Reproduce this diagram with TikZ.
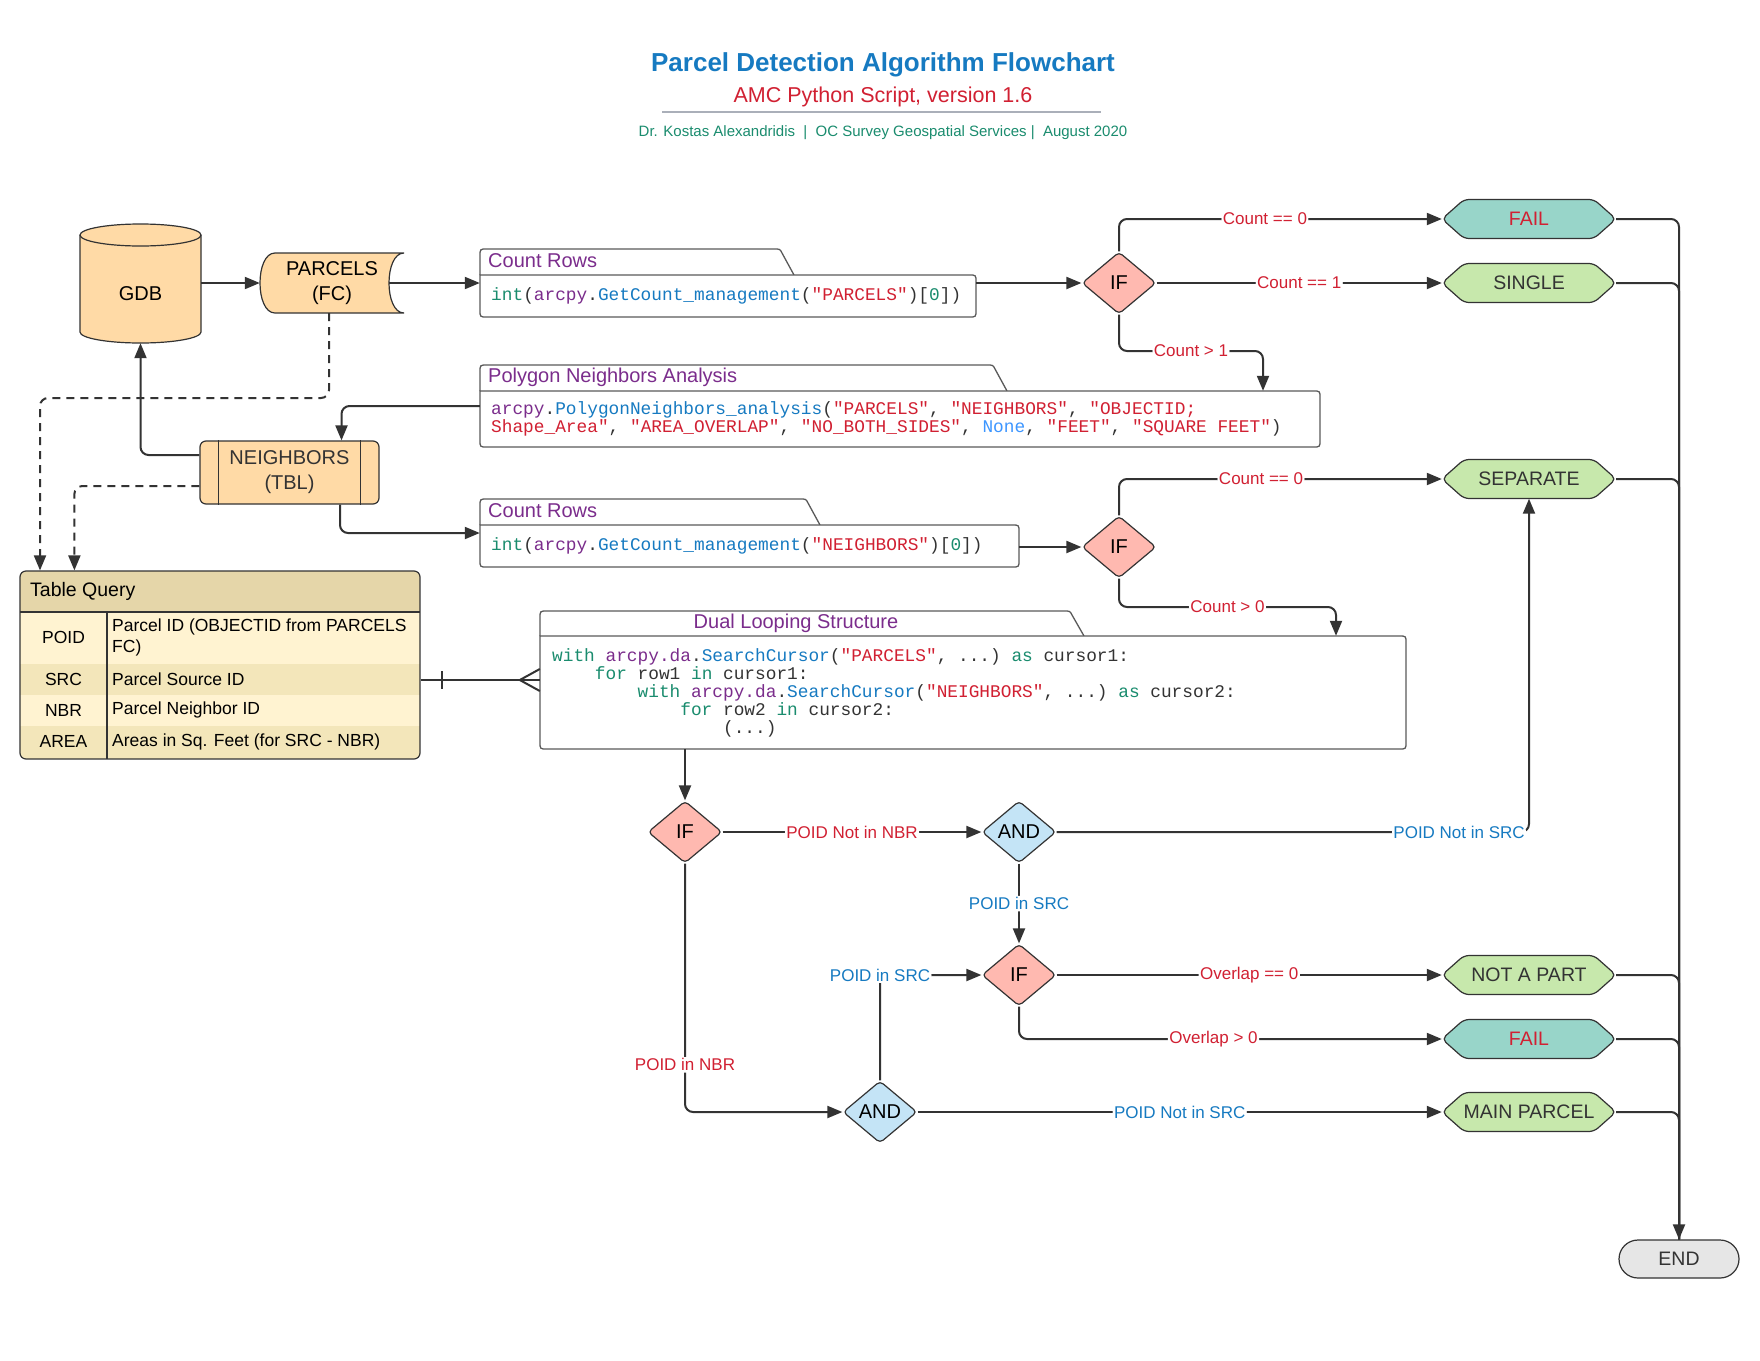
\documentclass[tikz,border=0pt]{standalone}
\usepackage{fontspec}
\setmainfont{Liberation Sans}
\setsansfont{Liberation Sans}
\setmonofont{Liberation Mono}
\usetikzlibrary{arrows.meta,shapes.geometric,calc}

\definecolor{titleblue}{RGB}{22,122,193}
\definecolor{lblred}{RGB}{209,32,50}
\definecolor{authgreen}{RGB}{26,140,110}
\definecolor{hdrpurple}{RGB}{123,45,140}
\definecolor{linec}{RGB}{51,51,51}
\definecolor{orangef}{RGB}{255,218,166}
\definecolor{iff}{RGB}{255,185,176}
\definecolor{andf}{RGB}{196,228,246}
\definecolor{failf}{RGB}{152,213,201}
\definecolor{okf}{RGB}{199,232,172}
\definecolor{endf}{RGB}{230,230,230}
\definecolor{tqhead}{RGB}{229,214,169}
\definecolor{tqlight}{RGB}{255,243,209}
\definecolor{tqdark}{RGB}{243,230,186}
\definecolor{rulegray}{RGB}{170,175,185}
\definecolor{nonec}{RGB}{61,150,255}
\definecolor{boxgray}{RGB}{90,90,90}

\newcommand{\cdKw}[1]{\textcolor{authgreen}{#1}}
\newcommand{\cdMod}[1]{\textcolor{hdrpurple}{#1}}
\newcommand{\cdFn}[1]{\textcolor{titleblue}{#1}}
\newcommand{\cdStr}[1]{\textcolor{lblred}{#1}}
\newcommand{\cdNone}[1]{\textcolor{nonec}{#1}}
\newcommand{\fsz}[2]{\fontsize{#1}{#2}\selectfont}

\tikzset{
  conn/.style={draw=linec, line width=2pt, rounded corners=8pt},
  arrw/.style={conn, -{Triangle[length=15pt,width=12pt]}},
  dconn/.style={conn, dash pattern=on 8pt off 6pt, -{Triangle[length=15pt,width=12pt]}},
  lbl/.style={fill=white, inner sep=1.5pt, font=\fsz{17}{20}},
  lblr/.style={lbl, text=lblred},
  lblb/.style={lbl, text=titleblue},
  shapeline/.style={draw=linec, line width=1.2pt},
  boxline/.style={draw=boxgray, line width=1.3pt},
  ifd/.style={diamond, shapeline, fill=iff, minimum width=74pt, minimum height=62pt, inner sep=0pt, aspect=1, rounded corners=4pt, font=\fsz{20}{24}, text=black},
  andd/.style={ifd, fill=andf},
  hexsty/.style={shapeline, rounded corners=5pt},
  hextext/.style={minimum width=174pt, minimum height=39pt, inner sep=0pt, font=\fsz{19.5}{23}},
  hdr/.style={font=\fsz{20}{24}, text=hdrpurple, inner sep=0pt},
  codetxt/.style={font=\ttfamily\fsz{17.8}{18}, text=linec, align=left, inner sep=0pt, anchor=west},
  tcell/.style={font=\fsz{17.5}{21}, inner sep=0pt, text=black},
}

% name, x, y, fill colour, text colour, text
\newcommand{\hexnode}[6]{%
  \path[hexsty, fill=#4] ({#2-87},#3) -- ({#2-65},{#3-19.5}) -- ({#2+65},{#3-19.5}) -- ({#2+87},#3) -- ({#2+65},{#3+19.5}) -- ({#2-65},{#3+19.5}) -- cycle;
  \node[hextext, text=#5] (#1) at (#2,#3) {#6};}

% name, x1, tabtop, bodytop, x2, bottom, tab corner x
\newcommand{\tabbox}[7]{%
  \path[boxline, fill=white] (#2,#4) -- (#2,{#3+7}) .. controls (#2,#3) .. ({#2+7},#3) -- ({#7-6},#3) .. controls (#7,#3) .. ({#7+2},{#3+4}) -- ({#7+14},#4);
  \path[boxline, fill=white] (#2,#4) -- ({#5-7},#4) .. controls (#5,#4) .. (#5,{#4+7}) -- (#5,{#6-7}) .. controls (#5,#6) .. ({#5-7},#6) -- ({#2+7},#6) .. controls (#2,#6) .. (#2,{#6-7}) -- cycle;
  \node[inner sep=0pt, minimum width={#5-#2}, minimum height={#6-#3}] (#1) at ({(#2+#5)/2},{(#3+#6)/2}) {};
  \node[inner sep=0pt, minimum width={#5-#2}, minimum height={#6-#4}] (#1b) at ({(#2+#5)/2},{(#4+#6)/2}) {};}

\begin{document}
\begin{tikzpicture}[x=1pt,y=-1pt]
\useasboundingbox (0,0) rectangle (1760,1360);
\fill[white] (0,0) rectangle (1760,1360);

% ---------- titles
\node[font=\bfseries\fsz{26}{30}, text=titleblue] (title) at (883,65) {Parcel Detection Algorithm Flowchart};
\node[font=\fsz{21.5}{26}, text=lblred] (subtitle) at (883,97) {AMC Python Script, version 1.6};
\draw[rulegray, line width=1.5pt] (662,112) -- (1101,112);
\node[font=\fsz{15}{18}, text=authgreen] (author) at (883,133) {Dr. Kostas Alexandridis \ | \ OC Survey Geospatial Services | \ August 2020};

% ---------- GDB cylinder
\path[shapeline, fill=orangef] (80,235) -- (80,332) .. controls (80,338.1) and (107.1,343) .. (140.5,343) .. controls (173.9,343) and (201,338.1) .. (201,332) -- (201,235) .. controls (201,228.9) and (173.9,224) .. (140.5,224) .. controls (107.1,224) and (80,228.9) .. (80,235) -- cycle;
\draw[shapeline] (80,235) .. controls (80,241.1) and (107.1,246) .. (140.5,246) .. controls (173.9,246) and (201,241.1) .. (201,235);
\node[font=\fsz{20}{24}, minimum width=121pt, minimum height=98pt, inner sep=0pt] (gdb) at (140.5,294) {GDB};

% ---------- PARCELS (FC)
\path[shapeline, fill=orangef] (275,253) -- (404,253) .. controls (384,253) and (384,313) .. (404,313) -- (275,313) .. controls (255,313) and (255,253) .. (275,253) -- cycle;
\node[font=\fsz{20}{25}, align=center, minimum width=144pt, minimum height=60pt, inner sep=0pt] (parcels) at (332,283) {PARCELS\\(FC)};

% ---------- NEIGHBORS (TBL)
\node[shapeline, fill=orangef, rounded corners=6pt, minimum width=179pt, minimum height=63pt, inner sep=0pt, align=center, font=\fsz{20}{25}, text=linec] (nb) at (289.5,472.5) {NEIGHBORS\\(TBL)};
\draw[shapeline] ([xshift=19pt]nb.north west) -- ([xshift=19pt]nb.south west);
\draw[shapeline] ([xshift=-19pt]nb.north east) -- ([xshift=-19pt]nb.south east);

% ---------- code boxes
\tabbox{cr1}{480}{249}{275}{976}{317}{780}
\node[hdr, anchor=west] (cr1h) at (488,261) {Count Rows};
\node[codetxt] (cr1c) at (491,296) {\cdKw{int}(\cdMod{arcpy}.\cdFn{GetCount\_management}(\cdStr{"PARCELS"})[\cdKw{0}])};

\tabbox{poly}{480}{365}{391}{1320}{447}{993}
\node[hdr, anchor=west] (polyh) at (488,377) {Polygon Neighbors Analysis};
\node[codetxt] (polyc) at (491,419) {\cdMod{arcpy}.\cdFn{PolygonNeighbors\_analysis}(\cdStr{"PARCELS"}, \cdStr{"NEIGHBORS"}, \cdStr{"OBJECTID;}\\
\cdStr{Shape\_Area"}, \cdStr{"AREA\_OVERLAP"}, \cdStr{"NO\_BOTH\_SIDES"}, \cdNone{None}, \cdStr{"FEET"}, \cdStr{"SQUARE FEET"})};

\tabbox{cr2}{480}{499}{525}{1019}{567}{806}
\node[hdr, anchor=west] (cr2h) at (488,511) {Count Rows};
\node[codetxt] (cr2c) at (491,546) {\cdKw{int}(\cdMod{arcpy}.\cdFn{GetCount\_management}(\cdStr{"NEIGHBORS"})[\cdKw{0}])};

\tabbox{dual}{540}{611}{636}{1406}{749}{1070}
\node[hdr] (dualh) at (796,623) {Dual Looping Structure};
\node[codetxt] (dualc) at (552,692.5) {\cdKw{with} \cdMod{arcpy.da}.\cdFn{SearchCursor}(\cdStr{"PARCELS"}, ...) \cdKw{as} cursor1:\\
\phantom{xxxx}\cdKw{for} row1 \cdKw{in} cursor1:\\
\phantom{xxxxxxxx}\cdKw{with} \cdMod{arcpy.da}.\cdFn{SearchCursor}(\cdStr{"NEIGHBORS"}, ...) \cdKw{as} cursor2:\\
\phantom{xxxxxxxxxxxx}\cdKw{for} row2 \cdKw{in} cursor2:\\
\phantom{xxxxxxxxxxxxxxxx}(...)};

% ---------- Table Query
\begin{scope}
\clip[rounded corners=6pt] (20,571) rectangle (420,759);
\fill[tqhead] (20,571) rectangle (420,612);
\fill[tqlight] (20,612) rectangle (420,664);
\fill[tqdark] (20,664) rectangle (420,695);
\fill[tqlight] (20,695) rectangle (420,726);
\fill[tqdark] (20,726) rectangle (420,759);
\end{scope}
\node[shapeline, rounded corners=6pt, minimum width=400pt, minimum height=188pt, inner sep=0pt] (tq) at (220,665) {};
\draw[shapeline] (20,612) -- (420,612);
\draw[shapeline] (107,612) -- (107,759);
\node[tcell, font=\fsz{19.5}{23}, anchor=west] (tqh) at (30,591.5) {Table Query};
\node[tcell] (k1t) at (63.5,637) {POID};
\node[tcell, anchor=west, align=left] (v1t) at (112,637) {Parcel ID (OBJECTID from PARCELS\\FC)};
\node[tcell] (k2t) at (63.5,679) {SRC};
\node[tcell, anchor=west] (v2t) at (112,679) {Parcel Source ID};
\node[tcell] (k3t) at (63.5,710) {NBR};
\node[tcell, anchor=west] (v3t) at (112,710) {Parcel Neighbor ID};
\node[tcell] (k4t) at (63.5,741.5) {AREA};
\node[tcell, anchor=west] (v4t) at (112,741.5) {Areas in Sq. Feet (for SRC - NBR)};

% ---------- decisions
\node[ifd] (if1) at (1119,283) {IF};
\node[ifd] (if2) at (1119,547) {IF};
\node[ifd] (if3) at (685,832) {IF};
\node[andd] (and1) at (1019,832) {AND};
\node[ifd] (if4) at (1019,975) {IF};
\node[andd] (and2) at (880,1112) {AND};

% ---------- terminals
\hexnode{fail1}{1529}{219}{failf}{lblred}{FAIL}
\hexnode{single}{1529}{283}{okf}{linec}{SINGLE}
\hexnode{sep}{1529}{479}{okf}{linec}{SEPARATE}
\hexnode{nap}{1529}{975}{okf}{linec}{NOT A PART}
\hexnode{fail2}{1529}{1039}{failf}{lblred}{FAIL}
\hexnode{main}{1529}{1112}{okf}{linec}{MAIN PARCEL}
\node[shapeline, fill=endf, rounded corners=19pt, minimum width=120pt, minimum height=38pt, font=\fsz{19.5}{23}, text=linec] (endn) at (1679,1259) {END};

% ---------- connectors
\draw[arrw] (gdb.east |- parcels.west) -- (parcels.west);
\draw[arrw] ([xshift=-15pt]parcels.east) -- (cr1.west);
\draw[arrw] (cr1.east) -- (if1.west);
\draw[arrw] (if1.north) |- (fail1.west) node[lblr, pos=0.726] {Count == 0};
\draw[arrw] (if1.east) -- (single.west) node[lblr, midway] {Count == 1};
\coordinate (kk1) at (1263,351);
\draw[arrw] (if1.south) |- (kk1) node[lblr, pos=0.75] {Count > 1} -- (kk1 |- polyb.north);
\draw[arrw] (poly.west) -| ([xshift=52pt]nb.north);
\draw[arrw] ([yshift=17.5pt]nb.west) -| (gdb.south);
\draw[arrw] ([xshift=50.5pt]nb.south) |- (cr2.west);
\draw[arrw] (cr2b.east |- if2.west) -- (if2.west);
\draw[arrw] (if2.north) |- (sep.west) node[lblr, pos=0.72] {Count == 0};
\coordinate (kk2) at (1336,607);
\draw[arrw] (if2.south) |- (kk2) node[lblr, pos=0.75] {Count > 0} -- (kk2 |- dualb.north);

\coordinate (kk3) at (40,398);
\draw[dconn] ([xshift=-3pt]parcels.south) |- (kk3) -- (kk3 |- tq.north);
\draw[dconn] ([yshift=-13.5pt]nb.west) -| ([xshift=55pt]tq.north west);

% ER connector
\draw[conn] (tq.east |- dual.west) -- (dual.west);
\draw[conn] ($(tq.east |- dual.west)+(21,-9)$) -- ++(0,18);
\draw[conn, sharp corners] ($(dual.west)+(0,-11)$) -- ($(dual.west)+(-20,0)$) -- ($(dual.west)+(0,11)$);

\draw[arrw] (if3.north |- dualb.south) -- (if3.north);
\draw[arrw] (if3.east) -- (and1.west) node[lblr, midway] {POID Not in NBR};
\draw[arrw] (and1.east) -| (sep.south) node[lblb, pos=0.426] {POID Not in SRC};
\draw[arrw] (and1.south) -- (if4.north) node[lblb, midway] {POID in SRC};
\draw[arrw] (if4.east) -- (nap.west) node[lblr, midway] {Overlap == 0};
\draw[arrw] (if4.south) |- (fail2.west) node[lblr, pos=0.73] {Overlap > 0};
\draw[arrw] (if3.south) |- (and2.west) node[lblr, pos=0.405] {POID in NBR};
\draw[arrw] (and2.north) |- (if4.west) node[lblb, pos=0.5] {POID in SRC};
\draw[arrw] (and2.east) -- (main.west) node[lblb, midway] {POID Not in SRC};

% collector to END
\draw[conn] (single.east) -| (endn.north);
\draw[conn] (sep.east) -| (endn.north);
\draw[conn] (nap.east) -| (endn.north);
\draw[conn] (fail2.east) -| (endn.north);
\draw[conn] (main.east) -| (endn.north);
\draw[arrw] (fail1.east) -| (endn.north);
\end{tikzpicture}
\end{document}
